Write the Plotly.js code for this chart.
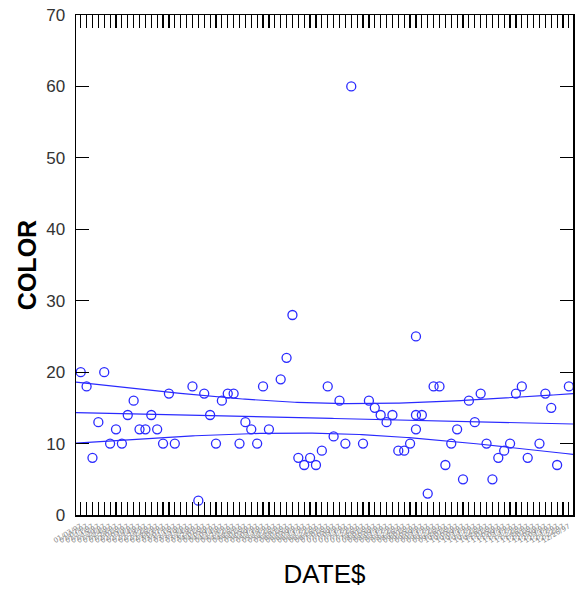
<!DOCTYPE html>
<html>
<head>
<meta charset="utf-8">
<script src="https://cdn.plot.ly/plotly-3.0.1.min.js"></script>
<style>
  html, body { margin: 0; padding: 0; background: #fff; }
  #chart { width: 579px; height: 590px; }
</style>
</head>
<body>
<div id="chart"></div>
<script>
// Sampling dates (DATE$), one tick per date
const dates = [
  "01/03/97","01/07/97","01/11/97","01/15/97","01/20/97","01/24/97","01/28/97",
  "02/01/97","02/05/97","02/10/97","02/14/97","02/18/97","02/22/97","02/26/97",
  "03/03/97","03/07/97","03/11/97","03/15/97","03/19/97","03/24/97","03/28/97",
  "04/01/97","04/05/97","04/09/97","04/14/97","04/18/97","04/22/97","04/26/97",
  "05/01/97","05/05/97","05/09/97","05/13/97","05/18/97","05/22/97","05/26/97",
  "06/01/97","06/05/97","06/09/97","06/13/97","06/17/97","06/22/97","06/26/97",
  "07/01/97","07/05/97","07/09/97","07/13/97","07/17/97","07/22/97","07/26/97",
  "08/01/97","08/05/97","08/09/97","08/13/97","08/17/97","08/22/97","08/26/97",
  "09/01/97","09/05/97","09/09/97","09/13/97","09/17/97","09/22/97","09/26/97",
  "10/01/97","10/05/97","10/09/97","10/13/97","10/17/97","10/22/97","10/26/97",
  "11/01/97","11/05/97","11/09/97","11/13/97","11/17/97","11/22/97","11/26/97",
  "12/01/97","12/05/97","12/09/97","12/13/97","12/17/97","12/22/97","12/26/97"
];

// Observation: position of its date in `dates`
const obsDateIndex = [
  0,1,2,3,4,5,6,7,8,9,10,11,12,13,14,15,16,
  19,20,21,22,23,24,25,26,27,28,29,30,31,32,
  34,35,36,37,38,39,40,41,42,43,44,45,46,
  48,49,50,51,52,53,54,55,56,57,57,57,58,59,60,61,62,63,64,65,66,67,68,69,70,71,72,73,74,75,76,
  78,79,80,81,83
];

// Observation: COLOR
const colorValues = [
  20,18,8,13,20,10,12,10,14,16,12,12,14,12,10,17,10,
  18,2,17,14,10,16,17,17,10,13,12,10,18,12,
  19,22,28,8,7,8,7,9,18,11,16,10,60,
  10,16,15,14,13,14,9,9,10,14,12,25,14,3,18,18,7,10,12,5,16,13,17,10,5,8,9,10,17,18,8,
  10,17,15,7,18
];

const yTicks = [0, 10, 20, 30, 40, 50, 60, 70];
const confidence = 0.99;

// Least-squares line with confidence band for the mean
function fitLine(x, y) {
  const n = x.length;
  const mx = x.reduce((a, b) => a + b, 0) / n;
  const my = y.reduce((a, b) => a + b, 0) / n;
  let sxx = 0, sxy = 0;
  for (let i = 0; i < n; i++) {
    sxx += (x[i] - mx) ** 2;
    sxy += (x[i] - mx) * (y[i] - my);
  }
  const b = sxy / sxx;
  const a = my - b * mx;
  let sse = 0;
  for (let i = 0; i < n; i++) sse += (y[i] - a - b * x[i]) ** 2;
  const s = Math.sqrt(sse / (n - 2));
  return { n, mx, sxx, a, b, s };
}

// t quantile (inverse normal plus Cornish-Fisher correction)
function tQuantile(p, df) {
  const q = p - 0.5;
  const r = q * q;
  let z = q * (((((-39.69683028665376 * r + 220.9460984245205) * r - 275.9285104469687) * r + 138.3577518672690) * r - 30.66479806614716) * r + 2.506628277459239) /
    (((((-54.47609879822406 * r + 161.5858368580409) * r - 155.6989798598866) * r + 66.80131188771972) * r - 13.28068155288572) * r + 1);
  if (Math.abs(q) > 0.425) {
    const pp = q < 0 ? p : 1 - p;
    const t = Math.sqrt(-2 * Math.log(pp));
    z = (((((-7.784894002430293e-3 * t - 3.223964580411365e-1) * t - 2.400758277161838) * t - 2.549732539343734) * t + 4.374664141464968) * t + 2.938163982698783) /
      ((((7.784695709041462e-3 * t + 3.224671290700398e-1) * t + 2.445134137142996) * t + 3.754408661907416) * t + 1);
    if (q < 0) z = -z;
  }
  const g1 = (z ** 3 + z) / 4;
  const g2 = (5 * z ** 5 + 16 * z ** 3 + 3 * z) / 96;
  return z + g1 / df + g2 / (df * df);
}

const fit = fitLine(obsDateIndex, colorValues);
const tval = tQuantile(1 - (1 - confidence) / 2, fit.n - 2);

const xRange = [-0.8, 83.7];
const lineX = [], lineMid = [], lineLo = [], lineHi = [];
for (let k = 0; k <= 200; k++) {
  const xv = xRange[0] + (xRange[1] - xRange[0]) * k / 200;
  const yv = fit.a + fit.b * xv;
  const se = fit.s * Math.sqrt(1 / fit.n + (xv - fit.mx) ** 2 / fit.sxx);
  lineX.push(xv);
  lineMid.push(yv);
  lineLo.push(yv - tval * se);
  lineHi.push(yv + tval * se);
}

const blue = '#2a2aff';
const lineStyle = { color: blue, width: 1.2 };

const traces = [
  { x: lineX, y: lineHi, mode: 'lines', line: lineStyle, hoverinfo: 'skip' },
  { x: lineX, y: lineMid, mode: 'lines', line: lineStyle, hoverinfo: 'skip' },
  { x: lineX, y: lineLo, mode: 'lines', line: lineStyle, hoverinfo: 'skip' },
  {
    x: obsDateIndex, y: colorValues, mode: 'markers',
    marker: { symbol: 'circle-open', size: 9, color: blue, line: { color: blue, width: 1.3 } }
  }
];

const axisFont = { family: 'Liberation Sans, Arial, sans-serif', size: 17, color: '#333' };

const layout = {
  width: 579, height: 590,
  margin: { l: 76, r: 6, t: 15, b: 75 },
  paper_bgcolor: '#fff', plot_bgcolor: '#fff',
  showlegend: false,
  xaxis: {
    type: 'linear', range: xRange,
    tickmode: 'array',
    tickvals: dates.map((d, i) => i),
    ticktext: dates,
    tickangle: -30,
    tickfont: { family: 'DejaVu Sans, sans-serif', size: 7, color: '#8c8c8c' },
    ticks: 'inside', ticklen: 13, tickwidth: 1.2, tickcolor: '#000',
    ticklabelstandoff: 3,
    showline: true, linecolor: '#000', linewidth: 1.5, mirror: 'ticks',
    showgrid: false, zeroline: false,
    title: { text: 'DATE$', font: { family: 'Liberation Sans, Arial, sans-serif', size: 26, color: '#000' }, standoff: 21 }
  },
  yaxis: {
    range: [0, 70],
    tickmode: 'array', tickvals: yTicks, ticktext: yTicks.map(String),
    tickfont: axisFont,
    ticks: 'inside', ticklen: 13, tickwidth: 1.2, tickcolor: '#000',
    ticklabelstandoff: 6,
    showline: true, linecolor: '#000', linewidth: 1.5, mirror: 'ticks',
    showgrid: false, zeroline: false,
    title: { text: '<b>COLOR</b>', font: { family: 'Liberation Sans, Arial, sans-serif', size: 25, color: '#000' }, standoff: 2 }
  }
};

Plotly.newPlot('chart', traces, layout, { displayModeBar: false, staticPlot: true });
</script>
</body>
</html>
